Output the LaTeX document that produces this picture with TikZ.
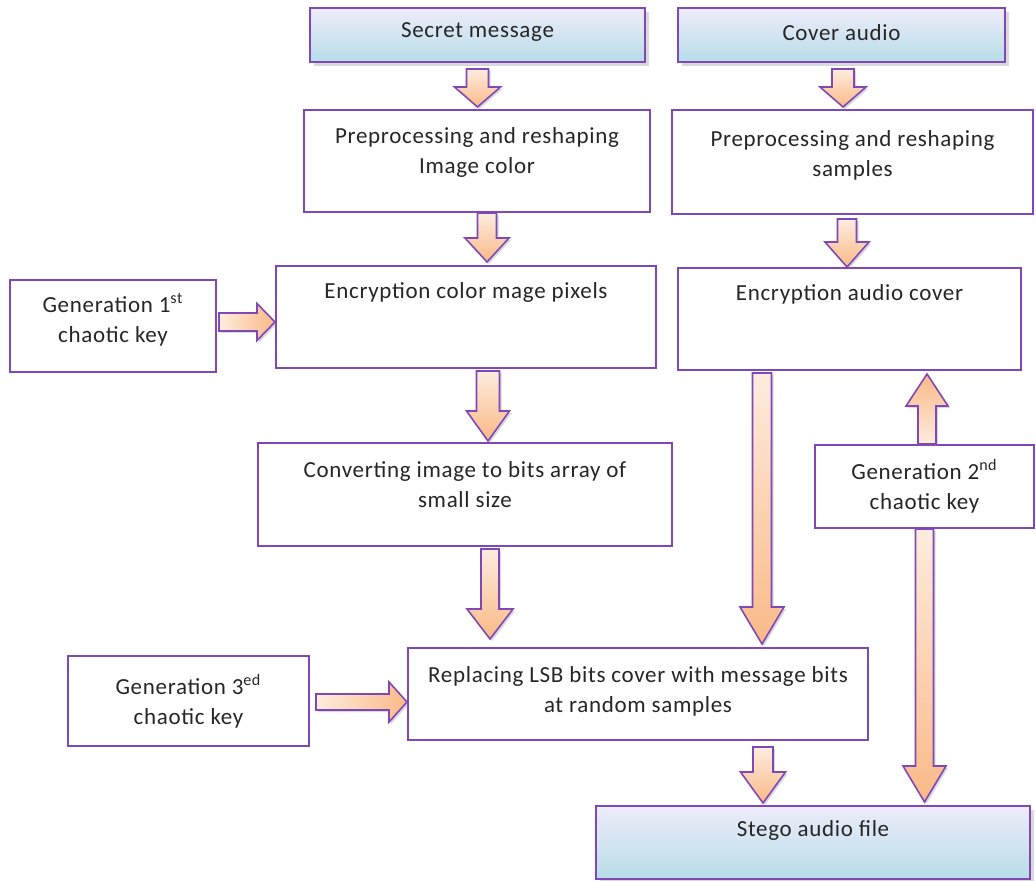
\documentclass[tikz,border=0pt]{standalone}
\usepackage{fontspec}
\setmainfont[LetterSpace=3]{Carlito}
\usetikzlibrary{calc, fit, shadows}

\definecolor{boxline}{RGB}{128,72,182}
\definecolor{arrlight}{RGB}{253,236,222}
\definecolor{arrdark}{RGB}{250,185,135}
\definecolor{toptint}{RGB}{238,236,250}
\definecolor{bottint}{RGB}{183,221,232}

% block arrows: #2 start, #3 tip, #4 half shaft, #5 half head, #6 head length
\newcommand{\varrow}[6][arrdown]{%
  \path[blockarr,#1] let \p1=#2, \p2=#3 in
    ({\x1-#4},\y1) -- ({\x1-#4},{\y2+#6}) -- ({\x1-#5},{\y2+#6}) -- (\x1,\y2)
    -- ({\x1+#5},{\y2+#6}) -- ({\x1+#4},{\y2+#6}) -- ({\x1+#4},\y1) -- cycle;}
\newcommand{\harrow}[5]{%
  \path[blockarr,arrright] let \p1=#1, \p2=#2 in
    (\x1,{\y1+#3}) -- ({\x2-#5},{\y1+#3}) -- ({\x2-#5},{\y1+#4}) -- (\x2,\y1)
    -- ({\x2-#5},{\y1-#4}) -- ({\x2-#5},{\y1-#3}) -- (\x1,{\y1-#3}) -- cycle;}

\begin{document}
\begin{tikzpicture}[x=0.5pt, y=-0.5pt,
  box/.style={draw=boxline, line width=1pt, fill=white, inner sep=0pt},
  endbox/.style={box, top color=toptint, bottom color=bottint,
    drop shadow={shadow xshift=2pt, shadow yshift=-2pt, opacity=.3}},
  txt/.style={align=center, font=\fontsize{11.5pt}{15pt}\selectfont, text=black!85, inner sep=0pt},
  blockarr/.style={draw=boxline, line width=0.8pt, line join=miter,
    drop shadow={shadow xshift=1pt, shadow yshift=-1pt, opacity=.3}},
  arrdown/.style={top color=arrlight, bottom color=arrdark},
  arrup/.style={top color=arrdark, bottom color=arrlight},
  arrright/.style={left color=arrlight, right color=arrdark}]
  \useasboundingbox (0,0) rectangle (1036,881);

  % left column
  \node[endbox, fit={(310,8) (645,62)}] (sm) {};
  \node[txt] (sm-t) at ([yshift=1.5pt]sm.center) {Secret message};
  \node[box, fit={(304,110) (650,212)}] (ppi) {};
  \node[txt] (ppi-t) at ([yshift=4.5pt]ppi.center) {Preprocessing and reshaping\\Image color};
  \node[box, fit={(276,266) (656,368)}] (eci) {};
  \node[txt] (eci-t) at ([yshift=12.5pt]eci.center) {Encryption color mage pixels};
  \node[box, fit={(10,280) (216,372)}] (g1) {};
  \node[txt] (g1-t) at ([yshift=3pt]g1.center) {Generation 1\textsuperscript{st}\\chaotic key};
  \node[box, fit={(258,443) (672,546)}] (cv) {};
  \node[txt] (cv-t) at ([yshift=5pt]cv.center) {Converting image to bits array of\\small size};

  % right column
  \node[endbox, fit={(678,8) (1005,62)}] (ca) {};
  \node[txt] (ca-t) at ([yshift=1pt]ca.center) {Cover audio};
  \node[box, fit={(672,110) (1033,214)}] (pps) {};
  \node[txt] (pps-t) at ([yshift=3.5pt]pps.center) {Preprocessing and reshaping\\samples};
  \node[box, fit={(678,268) (1021,370)}] (eac) {};
  \node[txt] (eac-t) at ([yshift=12.5pt]eac.center) {Encryption audio cover};
  \node[box, fit={(815,445) (1034,528)}] (g2) {};
  \node[txt] (g2-t) at (g2.center) {Generation 2\textsuperscript{nd}\\chaotic key};

  % bottom
  \node[box, fit={(68,656) (309,746)}] (g3) {};
  \node[txt] (g3-t) at (g3.center) {Generation 3\textsuperscript{ed}\\chaotic key};
  \node[box, fit={(408,648) (868,740)}] (rp) {};
  \node[txt] (rp-t) at ([yshift=1.5pt]rp.center) {Replacing LSB bits cover with message bits\\at random samples};
  \node[endbox, fit={(596,806) (1030,879)}] (st) {};
  \node[txt] (st-t) at ([yshift=6pt]st.center) {Stego audio file};

  % arrows
  \varrow{([yshift=-3pt]sm.south)}{([yshift=1pt]ppi.north)}{5.5pt}{11.5pt}{10pt}
  \varrow{([xshift=0.75pt,yshift=-3pt]ca.south)}{([yshift=1pt]pps.north)}{5.5pt}{11.5pt}{10pt}
  \varrow{([xshift=5pt]ppi.south)}{([yshift=1.5pt]eci.north)}{4.75pt}{11pt}{12pt}
  \varrow{([xshift=-2.75pt,yshift=-2pt]pps.south)}{(eac.north)}{4.75pt}{11pt}{12.5pt}
  \harrow{([xshift=1pt,yshift=2pt]g1.east)}{(eci.west)}{4.5pt}{9.25pt}{9pt}
  \varrow{([xshift=11pt,yshift=-1pt]eci.south)}{([yshift=0.5pt]cv.north)}{5.75pt}{10.75pt}{15pt}
  \varrow{([xshift=12.5pt,yshift=-1pt]cv.south)}{([yshift=4pt]rp.north)}{4.5pt}{11.5pt}{15pt}
  \varrow{([xshift=-43.75pt,yshift=-1pt]eac.south)}{([yshift=1.5pt]rp.north)}{4.75pt}{11pt}{18.5pt}
  \varrow[arrup]{([xshift=1.25pt]g2.north)}{([yshift=-1.5pt]eac.south)}{4.5pt}{10.5pt}{-16pt}
  \varrow{(g2.south)}{([yshift=1.5pt]st.north)}{4.5pt}{10.75pt}{18pt}
  \harrow{([xshift=3pt,yshift=-0.5pt]g3.east)}{(rp.west)}{4pt}{10pt}{9pt}
  \varrow{([xshift=62.5pt,yshift=-3pt]rp.south)}{([yshift=1pt]st.north)}{5pt}{11.25pt}{15.5pt}
\end{tikzpicture}
\end{document}
